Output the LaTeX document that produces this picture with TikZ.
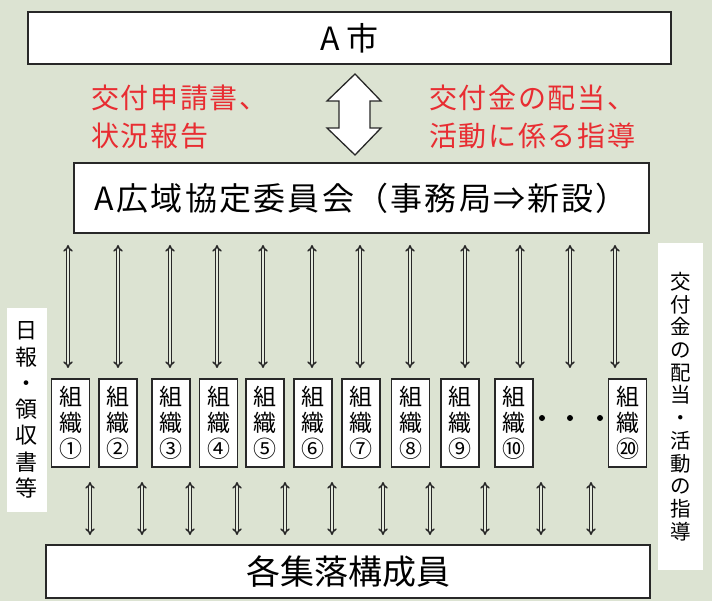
\documentclass[tikz,border=0pt]{standalone}
\usepackage{fontspec}
\newfontfamily\jp{Noto Sans CJK JP}
\usetikzlibrary{arrows.meta}
\definecolor{bg}{RGB}{220,227,210}
\definecolor{bgl}{RGB}{228,234,221}
\definecolor{rd}{RGB}{232,45,50}
\definecolor{ln}{RGB}{40,40,40}
\begin{document}
\begin{tikzpicture}[x=1pt,y=-1pt,
  box/.style={draw=ln,line width=1.3pt,fill=white,inner sep=0pt},
  org/.style={box,minimum width=38pt,minimum height=88pt,align=center,
    font=\jp\fontsize{23}{26}\selectfont},
  redtxt/.style={text=rd,inner sep=0pt,align=left,anchor=west,
    font=\jp\fontsize{28}{38}\selectfont\addfontfeature{LetterSpace=6}},
  lab/.style={fill=white,inner sep=0pt,align=center},
  dbl/.style={draw=ln,line width=1.5pt,double=bgl,double distance=1.5pt,{Implies}-{Implies}},
  dot/.style={circle,fill=black,inner sep=0pt,minimum size=6pt}
]
\useasboundingbox (0,0) rectangle (712,601);
\fill[bg] (0,0) rectangle (712,601);

% main boxes
\node[box,minimum width=643pt,minimum height=52pt,font=\jp\fontsize{32}{36}\selectfont] (city) at (349.5,38) {A\hspace{6pt}市};
\node[box,minimum width=575pt,minimum height=70pt,font=\jp\fontsize{32}{36}\selectfont\addfontfeature{LetterSpace=7}] (comm) at (361.5,198) {A広域協定委員会（事務局⇒新設）};
\node[box,minimum width=604pt,minimum height=53pt,font=\jp\fontsize{34}{38}\selectfont] (bot) at (348,571.5) {各集落構成員};

% red texts
\node[redtxt] (lt) at (91,117) {交付申請書、\\状況報告};
\node[redtxt] (rt) at (429,117) {交付金の配当、\\活動に係る指導};

% big hollow double arrow
\draw[draw=ln,line width=1.3pt,fill=white,line join=miter]
  (355,74) -- (381,101) -- (370,101) -- (370,128) -- (381,128) -- (355,155)
  -- (327,128) -- (339,128) -- (339,101) -- (327,101) -- cycle;

% side labels
\node[lab,minimum width=40pt,minimum height=204pt,font=\jp\fontsize{22}{26.3}\selectfont] (llab) at (27,410) {日\\報\\・\\領\\収\\書\\等};
\node[lab,minimum width=45pt,minimum height=327pt,font=\jp\fontsize{20.5}{22.7}\selectfont] (rlab) at (680.5,406.5) {交\\付\\金\\の\\配\\当\\・\\活\\動\\の\\指\\導};

% organisation boxes
\foreach \n/\x/\c in {1/70.5/①,2/118/②,3/171/③,4/218.5/④,5/265/⑤,6/313/⑥,7/361/⑦,8/410.5/⑧,9/460/⑨,10/514/⑩,20/627.5/⑳}
  \node[org] (o\n) at (\x,423) {組\\織\\\c};

% dots
\node[dot] (d1) at (542,418) {};
\node[dot] (d2) at (570,418) {};
\node[dot] (d3) at (600,418) {};

% upper thin arrows
\foreach \x [count=\i] in {68,118,170,217,263,312,360,410,465,520,570,615} {
  \coordinate (ua\i) at (\x,245);
  \coordinate (ub\i) at (\x,368);
  \draw[dbl] (ua\i) -- (ub\i);
}
% lower thin arrows
\foreach \x [count=\i] in {90,142,190,237,285,332,383,430,485,541,591} {
  \coordinate (la\i) at (\x,482);
  \coordinate (lb\i) at (\x,535);
  \draw[dbl] (la\i) -- (lb\i);
}
\end{tikzpicture}
\end{document}
